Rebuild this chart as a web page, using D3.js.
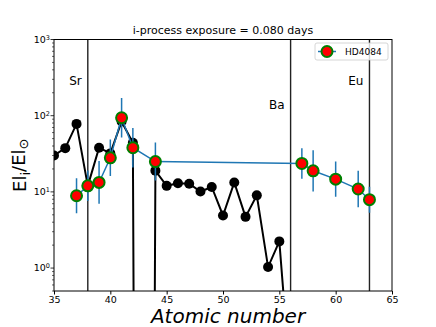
<!DOCTYPE html>
<html>
<head>
<meta charset="utf-8">
<script src="https://cdn.jsdelivr.net/npm/d3@7"></script>
<style>
  body { margin: 0; background: #fff; }
  text { font-family: "DejaVu Sans", sans-serif; fill: #000; }
</style>
</head>
<body>
<svg id="chart" width="436" height="327"></svg>
<script>
// solar-scaled abundance of the i-process model (black)
var model_z = [35, 36, 37, 38, 39, 40, 41, 42, 43, 44, 45, 46, 47, 48, 49, 50, 51, 52, 53, 54, 55, 56];
var model_val = [30, 37.5, 78, 12, 38, 32, 84, 44, 0, 19, 12, 13, 12.8, 10.1, 11.6, 4.9, 13.3, 4.7, 9.0, 1.03, 2.24, 0.03];

// observed star HD4084 (errors in dex)
var star_name = "HD4084";
var star_z = [37, 38, 39, 40, 41, 42, 44, 57, 58, 60, 62, 63];
var star_val = [8.9, 12, 13.3, 28, 94, 38, 25, 23.6, 18.9, 14.7, 10.9, 7.9];
var star_err = [0.23, 0.2, 0.28, 0.24, 0.26, 0.26, 0.25, 0.2, 0.27, 0.23, 0.24, 0.17];

// marker elements
var elem_z = [38, 56, 63];
var elem_name = ["Sr", "Ba", "Eu"];
var elem_label_y = [290, 140, 290];

var x_ticks = [35, 40, 45, 50, 55, 60, 65];
var y_ticks = [1, 10, 100, 1000];

var g_title = "i-process exposure = 0.080 days";

draw_chart();

function draw_chart() {
    var svg = d3.select("#chart");
    var m = { l: 54, r: 392, t: 39.5, b: 291 };

    var xs = d3.scaleLinear().domain([35, 65]).range([m.l, m.r]);
    var ys = d3.scaleLog().domain([0.5, 1000]).range([m.b, m.t]);
    var yclip = function (v) { return ys(Math.max(v, 1e-30)); }; // nonpositive values clipped like matplotlib

    svg.append("clipPath").attr("id", "plotclip").append("rect")
        .attr("x", m.l).attr("y", m.t).attr("width", m.r - m.l).attr("height", m.b - m.t);

    var g = svg.append("g").attr("clip-path", "url(#plotclip)");

    // model line + markers
    var model = model_z.map(function (z, i) { return [z, model_val[i]]; });
    g.append("path").datum(model)
        .attr("d", d3.line().x(d => xs(d[0])).y(d => yclip(d[1])))
        .attr("style", "fill:none; stroke:#000; stroke-width:2");
    g.selectAll(".mdot").data(model.filter(d => d[1] > 0)).join("circle").classed("mdot", true)
        .attr("cx", d => xs(d[0])).attr("cy", d => ys(d[1])).attr("r", 5)
        .attr("fill", "#000");

    // vertical element lines
    g.selectAll(".eline").data(elem_z).join("line").classed("eline", true)
        .attr("x1", d => xs(d)).attr("x2", d => xs(d))
        .attr("y1", m.t).attr("y2", m.b)
        .attr("style", "stroke:#222; stroke-width:1.4");

    // star: line, error bars, markers
    var star = star_z.map(function (z, i) { return [z, star_val[i], star_err[i]]; });
    g.append("path").datum(star)
        .attr("d", d3.line().x(d => xs(d[0])).y(d => ys(d[1])))
        .attr("style", "fill:none; stroke:#1f77b4; stroke-width:1.5");
    g.selectAll(".err").data(star).join("line").classed("err", true)
        .attr("x1", d => xs(d[0])).attr("x2", d => xs(d[0]))
        .attr("y1", d => ys(d[1] * Math.pow(10, d[2])))
        .attr("y2", d => ys(d[1] / Math.pow(10, d[2])))
        .attr("style", "stroke:#1f77b4; stroke-width:1.5");
    g.selectAll(".sdot").data(star).join("circle").classed("sdot", true)
        .attr("cx", d => xs(d[0])).attr("cy", d => ys(d[1])).attr("r", 5.5)
        .attr("style", "fill:#ff0000; stroke:#008000; stroke-width:2");

    // element labels
    svg.selectAll(".elab").data(elem_z).join("text").classed("elab", true)
        .attr("x", d => xs(d) - 6).attr("y", (d, i) => ys(elem_label_y[i]))
        .attr("dy", "0.35em").attr("text-anchor", "end")
        .attr("font-size", 12).text((d, i) => elem_name[i]);

    // frame
    svg.append("rect").attr("x", m.l).attr("y", m.t)
        .attr("width", m.r - m.l).attr("height", m.b - m.t)
        .attr("style", "fill:none; stroke:#000; stroke-width:1");

    // x axis
    var xa = svg.append("g").attr("transform", "translate(0," + m.b + ")")
        .call(d3.axisBottom(xs).tickValues(x_ticks).tickSize(3.5).tickPadding(2));
    xa.select(".domain").remove();
    xa.selectAll("text").attr("font-size", 9.5).attr("font-family", "DejaVu Sans");

    // y axis with minor ticks
    var minor = [];
    [0.1, 1, 10, 100].forEach(function (b) {
        for (var k = 2; k <= 9; k++) {
            var v = b * k;
            if (v >= 0.5 && v <= 1000) minor.push(v);
        }
    });
    var ya = svg.append("g").attr("transform", "translate(" + m.l + ",0)");
    ya.selectAll(".minor").data(minor).join("line").classed("minor", true)
        .attr("x1", -2).attr("x2", 0).attr("y1", d => ys(d)).attr("y2", d => ys(d))
        .attr("stroke", "#000").attr("stroke-width", 0.6);
    ya.selectAll(".major").data(y_ticks).join("line").classed("major", true)
        .attr("x1", -3.5).attr("x2", 0).attr("y1", d => ys(d)).attr("y2", d => ys(d))
        .attr("stroke", "#000").attr("stroke-width", 0.8);
    var yl = ya.selectAll(".ylab").data(y_ticks).join("text").classed("ylab", true)
        .attr("x", -4).attr("y", d => ys(d)).attr("dy", "0.35em")
        .attr("text-anchor", "end").attr("font-size", 9.5);
    yl.append("tspan").text("10");
    yl.append("tspan").attr("dy", "-0.45em").attr("font-size", 6.5)
        .text(d => Math.round(Math.log10(d)));

    // title
    svg.append("text").attr("x", (m.l + m.r) / 2).attr("y", 34)
        .attr("text-anchor", "middle").attr("font-size", 11).text(g_title);

    // axis labels
    svg.append("text").attr("x", (m.l + m.r) / 2 + 5).attr("y", 323)
        .attr("text-anchor", "middle").attr("font-size", 20).attr("font-style", "italic")
        .text("Atomic number");
    var ylab = svg.append("text").attr("transform", "translate(26," + ((m.t + m.b) / 2) + ") rotate(-90)")
        .attr("text-anchor", "middle").attr("font-size", 18);
    ylab.append("tspan").text("El");
    ylab.append("tspan").attr("dy", "0.3em").attr("font-size", 13).text("i");
    ylab.append("tspan").attr("dy", "-0.3em").text("/El");
    ylab.append("tspan").attr("dy", "0.3em").attr("font-size", 13).text("⊙");

    // legend
    var lg = svg.append("g").attr("transform", "translate(315,43)");
    lg.append("rect").attr("width", 73).attr("height", 17).attr("rx", 2)
        .attr("style", "fill:#fff; fill-opacity:0.8; stroke:#ccc; stroke-width:0.8");
    lg.append("line").attr("x1", 3).attr("x2", 21).attr("y1", 8.5).attr("y2", 8.5)
        .attr("style", "stroke:#1f77b4; stroke-width:1.5");
    lg.append("circle").attr("cx", 12).attr("cy", 8.5).attr("r", 5.5)
        .attr("style", "fill:#ff0000; stroke:#008000; stroke-width:2");
    lg.append("text").attr("x", 30).attr("y", 8.5).attr("dy", "0.35em")
        .attr("font-size", 9).text(star_name);
}
</script>
</body>
</html>
